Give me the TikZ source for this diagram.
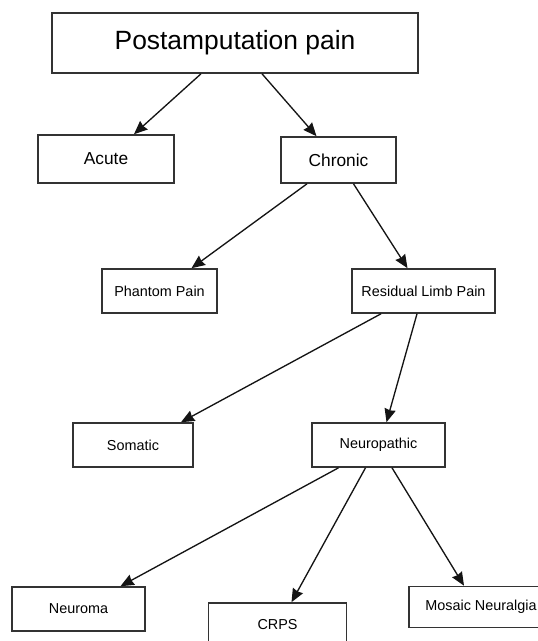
\documentclass[tikz,border=0pt]{standalone}
\usepackage{fontspec}
\setmainfont{Liberation Sans}
\usetikzlibrary{arrows.meta,calc}

\tikzset{every picture/.style={line width=0.75pt}}
\tikzset{
  painbox/.style={draw={rgb, 255:red, 51; green, 51; blue, 51},line width=1.2pt,inner sep=0pt,align=center,font=\fontsize{10.8}{13}\selectfont},
  painarrow/.style={-{Stealth[length=10pt,width=8.5pt,inset=0.8pt]},line width=1pt,color={rgb, 255:red, 20; green, 20; blue, 20}}
}

\begin{document}
\begin{tikzpicture}[x=0.75pt,y=0.75pt,yscale=-1,xscale=1]
		\useasboundingbox (0,0) rectangle (537,641);

		% Text Node
		\node [painbox,minimum width=366*0.75pt,minimum height=60*0.75pt,font=\fontsize{19.8}{24}\selectfont] (post) at (235,43) {Postamputation pain};
		% Text Node
		\node [painbox,minimum width=136*0.75pt,minimum height=48*0.75pt,font=\fontsize{13}{16}\selectfont] (acute) at (106,159) {Acute};
		% Text Node
		\node [painbox,minimum width=115*0.75pt,minimum height=46*0.75pt,font=\fontsize{13}{16}\selectfont] (chronic) at (338.5,160) {Chronic};
		% Text Node
		\node [painbox,minimum width=115*0.75pt,minimum height=44*0.75pt] (phantom) at (159.5,291) {Phantom Pain};
		% Text Node
		\node [painbox,minimum width=143*0.75pt,minimum height=44*0.75pt] (residual) at (423.5,291) {Residual Limb Pain};
		% Text Node
		\node [painbox,minimum width=120*0.75pt,minimum height=44*0.75pt] (somatic) at (133,445) {Somatic};
		% Text Node
		\node [painbox,minimum width=133*0.75pt,minimum height=44*0.75pt] (neuro) at (378.5,445) {Neuropathic};
		% Text Node
		\node [painbox,minimum width=133*0.75pt,minimum height=44*0.75pt] (neuroma) at (78.5,609) {Neuroma};
		% Text Node
		\node [painbox,minimum width=138*0.75pt,minimum height=44*0.75pt] (crps) at (277.5,625) {CRPS};
		% Text Node
		\node [painbox,minimum width=144*0.75pt,minimum height=41*0.75pt] (mosaic) at (481,607) {Mosaic Neuralgia};

		%Straight Lines
		\draw [painarrow] ($(post.south)+(-34,0)$) -- ($(acute.north)+(28,0)$);
		\draw [painarrow] ($(post.south)+(27,0)$) -- ($(chronic.north)+(-22,0)$);
		%Straight Lines
		\draw [painarrow] ($(chronic.south)+(-31.5,0)$) -- ($(phantom.north)+(32,0)$);
		\draw [painarrow] ($(chronic.south)+(15,0)$) -- ($(residual.north)+(-16,0)$);
		%Straight Lines
		\draw [painarrow] ($(residual.south)+(-42.5,0)$) -- ($(somatic.north)+(48,0)$);
		\draw [painarrow] ($(residual.south)+(-6.5,0)$) -- ($(neuro.north)+(8,0)$);
		%Straight Lines
		\draw [painarrow] ($(neuro.south)+(-40,0)$) -- ($(neuroma.north)+(42,0)$);
		\draw [painarrow] ($(neuro.south)+(-13,0)$) -- ($(crps.north)+(14,0)$);
		\draw [painarrow] ($(neuro.south)+(13.5,0)$) -- ($(mosaic.north)+(-17,0)$);

	\end{tikzpicture}
\end{document}
